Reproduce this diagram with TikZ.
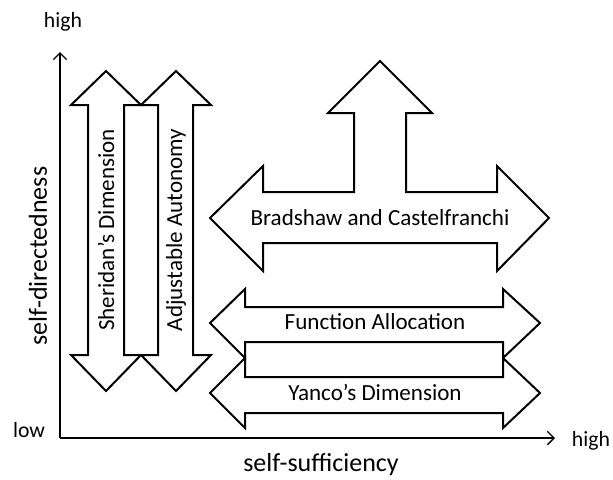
\documentclass[tikz,border=0pt]{standalone}
\usepackage{fontspec}
\setmainfont{Carlito}
\usetikzlibrary{arrows.meta}

\begin{document}
\begin{tikzpicture}
        [x=0.75pt, y=-0.75pt,
        block/.style={draw, black, line width=1.5pt, line join=miter},
        axis/.style={black, line width=1pt, -{Straight Barb[length=5pt,width=10pt]}},
        label/.style={font=\fontsize{17.3}{20}\selectfont, inner sep=0pt},
        axislabel/.style={font=\fontsize{19.5}{22}\selectfont, inner sep=0pt},
        endlabel/.style={font=\fontsize{16.3}{19}\selectfont, inner sep=0pt}]

        \useasboundingbox (0,0) rectangle (613,479);

        % axes
        \coordinate (origin) at (60,438);
        \coordinate (ytip) at (60,52);
        \coordinate (xtip) at (555,438);
        \draw[axis] (origin) -- (ytip);
        \draw[axis] (origin) -- (xtip);

        % axis labels
        \node[endlabel] (yhigh) at (63,22) {high};
        \node[endlabel] (ylow) at (29,430) {low};
        \node[endlabel] (xhigh) at (591,441) {high};
        \node[axislabel, rotate=90] (ylabel) at (38,256) {self-directedness};
        \node[axislabel] (xlabel) at (321,465) {self-sufficiency};

        % vertical double arrows
        \draw[block] (106,71) -- (141,105) -- (124,105) -- (124,355) -- (141,355) -- (106,391)
                -- (71,355) -- (88,355) -- (88,105) -- (71,105) -- cycle;
        \draw[block] (176,71) -- (211,105) -- (193,105) -- (193,355) -- (211,355) -- (176,391)
                -- (141,355) -- (158,355) -- (158,105) -- (141,105) -- cycle;
        \draw[block] (124,105) rectangle (158,355);

        % horizontal double arrows
        \draw[block] (210,323) -- (245,289) -- (245,307) -- (503,307) -- (503,289) -- (540,323)
                -- (503,358) -- (503,342) -- (245,342) -- (245,358) -- cycle;
        \draw[block] (210,393) -- (245,358) -- (245,377) -- (503,377) -- (503,358) -- (540,393)
                -- (503,428) -- (503,413) -- (245,413) -- (245,428) -- cycle;
        \draw[block] (245,342) rectangle (503,377);

        % three-way arrow
        \draw[block] (210,218) -- (263,166) -- (263,192) -- (354,192) -- (354,113) -- (328,113)
                -- (380,61) -- (432,113) -- (406,113) -- (406,192) -- (497,192) -- (497,166)
                -- (549,218) -- (497,271) -- (497,243) -- (263,243) -- (263,271) -- cycle;

        % arrow labels
        \node[label, rotate=90] (sheridan) at (106,230) {Sheridan’s Dimension};
        \node[label, rotate=90] (adjustable) at (176,230) {Adjustable Autonomy};
        \node[label] (bradshaw) at (380,218) {Bradshaw and Castelfranchi};
        \node[label] (allocation) at (375,322) {Function Allocation};
        \node[label] (yanco) at (375,392) {Yanco’s Dimension};

\end{tikzpicture}
\end{document}
